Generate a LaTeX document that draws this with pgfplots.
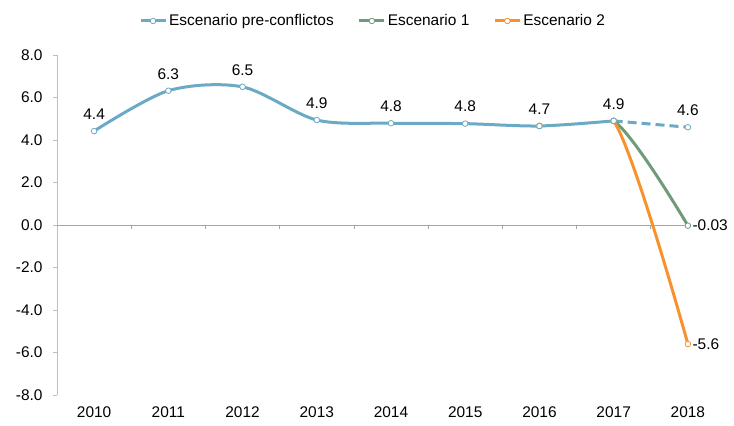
\documentclass[border=0pt]{standalone}
\usepackage{fontspec}
\setmainfont{Liberation Sans}
\usepackage{pgfplots}
\pgfplotsset{compat=1.18}
\definecolor{cblue}{HTML}{6AAAC4}
\definecolor{cgreen}{HTML}{709B7A}
\definecolor{corange}{HTML}{F7932E}
\definecolor{axgray}{HTML}{BFBFBF}
\definecolor{zgray}{HTML}{A6A6A6}
\begin{document}
\begin{tikzpicture}[font=\fontsize{15.5}{18}\selectfont]
\begin{axis}[
  scale only axis, width=668bp, height=340bp,
  xmin=-0.5, xmax=8.5, ymin=-8, ymax=8,
  clip=false,
  axis y line*=left, axis x line*=bottom,
  x axis line style={draw=none},
  xtick={0,...,8}, xticklabels={2010,2011,2012,2013,2014,2015,2016,2017,2018},
  xtick style={draw=none},
  xticklabel style={yshift=-4bp},
  ytick={-8,-6,...,8},
  y axis line style={axgray, line width=0.8pt},
  ytick style={axgray, line width=0.8pt},
  tick align=outside, major tick length=4bp,
  yticklabel style={xshift=-7bp, /pgf/number format/.cd, fixed, fixed zerofill, precision=1, assume math mode=true},
  legend columns=3,
  legend style={at={(0.473,1.10)}, anchor=center, draw=none, fill=none,
    /tikz/every even column/.append style={column sep=22bp}},
  legend image code/.code={
    \draw[#1, line width=3bp] (0bp,0bp) -- (25bp,0bp);
    \draw[#1, fill=white, line width=0.8pt, solid] (12.5bp,0bp) circle (2.8bp);},
]
\addlegendimage{cblue}
\addlegendentry{Escenario pre-conflictos}
\addlegendimage{cgreen}
\addlegendentry{Escenario 1}
\addlegendimage{corange}
\addlegendentry{Escenario 2}

\draw[zgray, line width=0.8pt] (axis cs:-0.5,0) -- (axis cs:8.5,0);
\pgfplotsinvokeforeach{0.5,1.5,2.5,3.5,4.5,5.5,6.5,7.5}{
  \draw[zgray, line width=0.6pt] (axis cs:#1,0) -- ++(0pt,-4bp);
}

% dashed pre-conflict projection
\addplot[cblue, line width=3bp, dashed, dash pattern=on 9bp off 5bp, mark=*,
  mark options={fill=white, line width=0.8pt, solid}, mark size=2.8bp, forget plot]
  coordinates {(7,4.9) (8,4.6)};
\begin{scope}
\clip (axis cs:7,-9) rectangle (axis cs:8.6,9);
% scenario 1
\addplot[cgreen, line width=3bp, smooth, mark=*,
  mark options={fill=white, line width=0.8pt, solid}, mark size=2.8bp, forget plot]
  coordinates {(6,4.66) (7,4.9) (8,-0.03)};
% scenario 2
\addplot[corange, line width=3bp, smooth, mark=*,
  mark options={fill=white, line width=0.8pt, solid}, mark size=2.8bp, forget plot]
  coordinates {(6,4.66) (7,4.9) (8,-5.6)};
\end{scope}
% pre-conflict
\addplot[cblue, line width=3bp, smooth, mark=*,
  mark options={fill=white, line width=0.8pt, solid}, mark size=2.8bp, forget plot]
  coordinates {(0,4.42) (1,6.32) (2,6.5) (3,4.94) (4,4.79) (5,4.77) (6,4.66) (7,4.9)};

% labels
\addplot[draw=none, mark=none, forget plot, nodes near coords, point meta=explicit symbolic,
  nodes near coords style={anchor=south, yshift=8bp, text=black}]
  coordinates {(0,4.42)[4.4] (1,6.32)[6.3] (2,6.5)[6.5] (3,4.94)[4.9] (4,4.79)[4.8]
               (5,4.77)[4.8] (6,4.66)[4.7] (7,4.9)[4.9] (8,4.6)[4.6]};
\addplot[draw=none, mark=none, forget plot, nodes near coords, point meta=explicit symbolic,
  nodes near coords style={anchor=west, xshift=3bp, fill=white, inner sep=1.5bp, text=black}]
  coordinates {(8,-0.03)[-0.03] (8,-5.6)[-5.6]};
\end{axis}
\pgfresetboundingbox
\path ([shift={(-57bp,-30bp)}]current axis.south west) rectangle ([shift={(9bp,55bp)}]current axis.north east);
\end{tikzpicture}
\end{document}
